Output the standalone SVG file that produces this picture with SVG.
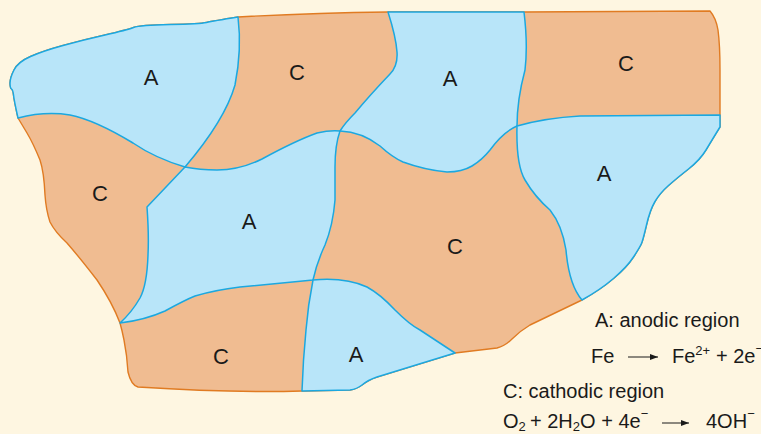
<svg xmlns="http://www.w3.org/2000/svg" width="761" height="434" viewBox="0 0 761 434">
<defs>
<style>
.bg{fill:#fef6e1}
.cat{fill:#f0bc91;stroke:#e07b22;stroke-width:1.4;stroke-linejoin:round}
.ano{fill:#b8e5f9;stroke:#1ba8e0;stroke-width:1.5;stroke-linejoin:round}
.lbl{font-family:"Liberation Sans",Arial,sans-serif;font-size:22px;fill:#1a1a1a;text-anchor:middle}
.leg{font-family:"Liberation Sans",Arial,sans-serif;font-size:20px;fill:#1a1a1a}
.sm{font-size:13px}
.arr{stroke:#1a1a1a;stroke-width:1;fill:none;marker-end:url(#ah)}
</style>
<marker id="ah" viewBox="0 0 8 6" refX="8" refY="3" markerWidth="8" markerHeight="6" markerUnits="userSpaceOnUse" orient="auto">
<path d="M0,0 L8,3 L0,6 Z" fill="#1a1a1a"/>
</marker>
</defs>
<rect class="bg" x="0" y="0" width="761" height="434"/>
<g id="plate">
<path class="cat" d="M18,118 Q14,100 13.5,95 Q13,90 11.5,89 Q10,88 10,83 Q10,78 14,70 Q18,62 30.5,56.5 Q43,51 63,45.5 Q83,40 105,35 Q127,30 133.5,27.5 Q140,25 170,24.5 Q200,24 206.5,22.5 Q213,21 238,17 Q310,13 388,12 L524,12 L710,11 Q716,18 718,30 Q720,45 720,70 L720,127 Q712,140 706,150 Q700,160 688.5,169 Q677,178 668.5,185.5 Q660,193 655,201.5 Q650,210 646.5,225 Q643,240 641.5,243.5 Q640,247 633.5,257 Q627,267 613.5,278.5 Q600,290 582,300 L530,325 Q520,331 512,339 Q505,346 497,348 L455,353 L377,377 Q368,380 362,385 Q357,389 350,390 L302,391 Q230,393 138,387 Q131,385 128,372 Q127,355 124,340 Q122,330 120,323 Q112,302 97,280 Q80,258 67,243 Q55,232 50,222 Q46,210 45,195 Q44,172 40,160 Q33,143 27,133 Z"/>
</g>
<g id="connectors"></g>
<g id="A1"><path class="ano" d="M18,118 Q14,100 13.5,95 Q13,90 11.5,89 Q10,88 10,83 Q10,78 14,70 Q18,62 30.5,56.5 Q43,51 63,45.5 Q83,40 105,35 Q127,30 133.5,27.5 Q140,25 170,24.5 Q200,24 206.5,22.5 Q213,21 238,17 Q242,50 235,85 Q225,120 185,167 Q155,158 133,143 Q95,120 70,115 Q45,111 18,118 Z"/><text class="lbl" x="151" y="85">A</text></g>
<g id="A2"><path class="ano" d="M388,12 L524,12 Q528,45 525,70 Q517,100 517,126 Q503,132 490,150 Q482,160 472,166 Q462,172 447,172 Q425,170 403,162 Q392,157 380,146 Q362,132 340,131 Q345,123 355,113 Q370,95 390,74 Q398,66 397,52 Q396,37 388,12 Z"/><text class="lbl" x="450" y="86">A</text></g>
<g id="A3"><path class="ano" d="M185,167 Q200,170 217,170 Q240,170 262,159 Q295,141 317,133 Q330,130 340,131 Q335,145 335,167 Q335,185 335,200 Q333,225 325,245 Q317,262 313,280 L240,287 Q215,290 195,296 Q185,300 165,311 Q145,320 120,323 Q132,312 140,298 Q147,285 148,255 Q149,235 147,207 Z"/><text class="lbl" x="249" y="229">A</text></g>
<g id="A4"><path class="ano" d="M517,126 Q545,118 580,116 L720,115 L720,127 Q712,140 706,150 Q700,160 688.5,169 Q677,178 668.5,185.5 Q660,193 655,201.5 Q650,210 646.5,225 Q643,240 641.5,243.5 Q640,247 633.5,257 Q627,267 613.5,278.5 Q600,290 582,300 Q569,285 566,250 Q562,225 550,210 Q535,197 525,180 Q516,165 517,126 Z"/><text class="lbl" x="604" y="181">A</text></g>
<g id="A5"><path class="ano" d="M313,280 Q345,277 367,287 Q380,294 395,310 Q410,325 420,330 L455,353 L377,377 Q368,380 362,385 Q357,389 350,390 L302,391 Q303,360 306,330 Q308,305 313,280 Z"/><text class="lbl" x="356" y="362">A</text></g>
<g id="C1"><text class="lbl" x="297" y="80">C</text></g>
<g id="C2"><text class="lbl" x="626" y="71">C</text></g>
<g id="C3"><text class="lbl" x="100" y="201">C</text></g>
<g id="C4"><text class="lbl" x="455" y="254">C</text></g>
<g id="C5"><text class="lbl" x="221" y="364">C</text></g>
<g id="legend">
<text class="leg" x="595" y="327">A: anodic region</text>
<text class="leg" x="591" y="363">Fe</text>
<line class="arr" x1="628" y1="357" x2="658" y2="357"/>
<text class="leg" x="672" y="363">Fe<tspan class="sm" dy="-8">2+</tspan><tspan dy="8" x="716">+ 2e</tspan><tspan class="sm" dy="-10">−</tspan></text>
<text class="leg" x="503" y="398">C: cathodic region</text>
<text class="leg" x="503" y="428">O<tspan class="sm" dy="3">2</tspan><tspan dy="-3" x="530">+ 2H</tspan><tspan class="sm" dy="3">2</tspan><tspan dy="-3">O + 4e</tspan><tspan class="sm" dy="-10">−</tspan></text>
<line class="arr" x1="662" y1="423" x2="689" y2="423"/>
<text class="leg" x="706" y="428">4OH<tspan class="sm" dy="-10">−</tspan></text>
</g>
</svg>
